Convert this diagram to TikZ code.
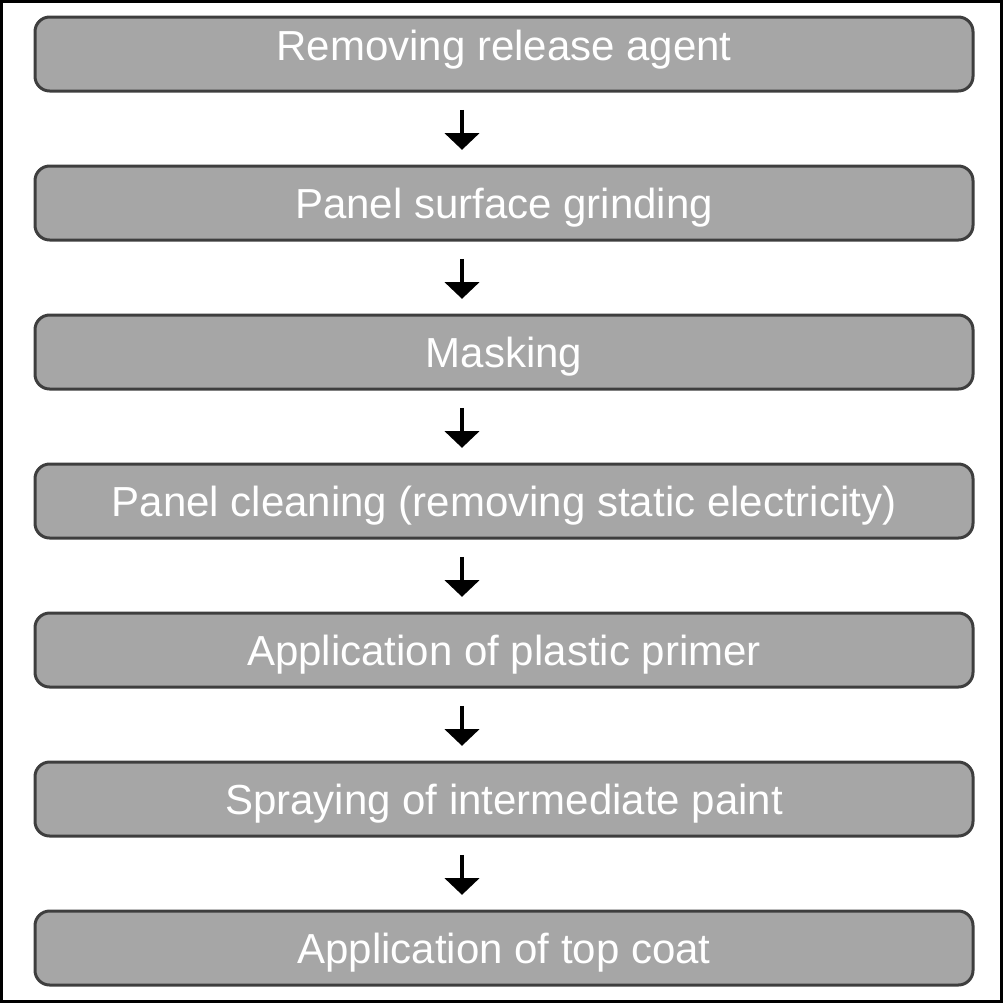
\documentclass[tikz,border=0pt]{standalone}
\usepackage{fontspec}
\setmainfont{Liberation Sans}
\usetikzlibrary{arrows.meta}
\definecolor{boxfill}{RGB}{166,166,166}
\definecolor{boxline}{RGB}{62,62,62}
\tikzset{
  stepbox/.style={draw=boxline, fill=boxfill, line width=2.25pt, rounded corners=11pt,
    minimum width=703.5pt, minimum height=55.5pt, inner sep=0pt,
    text height=22.5pt, text depth=0pt,
    font=\fontsize{31.5pt}{36pt}\selectfont, text=white},
  flowarr/.style={line width=3pt, -{Triangle[width=25.5pt,length=12.5pt]},
    shorten <=13pt, shorten >=11pt}
}
\begin{document}
\begin{tikzpicture}[x=0.75pt,y=-0.75pt]
\useasboundingbox (0,0) rectangle (1005,1004);
\draw[line width=2.25pt] (1.5,1.5) rectangle (1001.5,1001.5);
\node[stepbox, text depth=13pt] (b1) at (504,54) {Removing release agent};
\node[stepbox] (b2) at (504,203) {Panel surface grinding};
\node[stepbox] (b3) at (504,352) {Masking};
\node[stepbox] (b4) at (504,501) {Panel cleaning (removing static electricity)};
\node[stepbox] (b5) at (504,650) {Application of plastic primer};
\node[stepbox] (b6) at (504,799) {Spraying of intermediate paint};
\node[stepbox] (b7) at (504,948) {Application of top coat};
\foreach \a/\b in {b1/b2,b2/b3,b3/b4,b4/b5,b5/b6,b6/b7}
  \draw[flowarr] ([xshift=-31.5pt]\a.south) -- ([xshift=-31.5pt]\b.north);
\end{tikzpicture}
\end{document}
